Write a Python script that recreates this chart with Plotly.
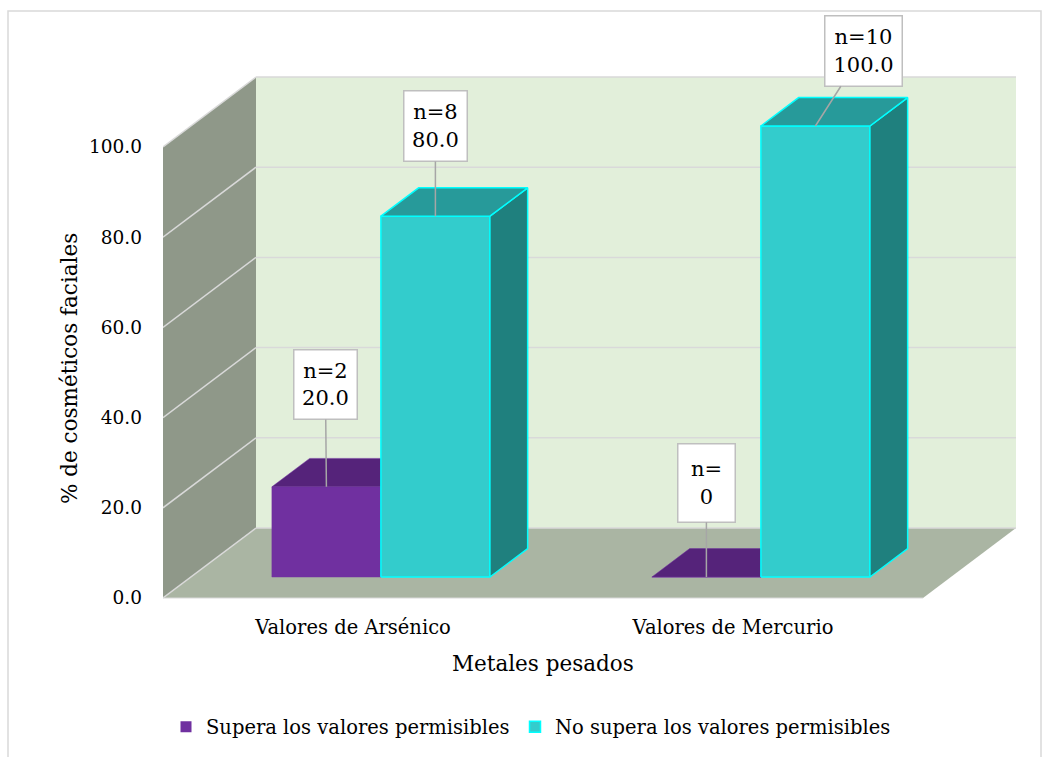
import plotly.graph_objects as go

# ---------------- data ----------------
categories = ["Valores de Arsénico", "Valores de Mercurio"]
series_names = ["Supera los valores permisibles", "No supera los valores permisibles"]
pct_supera = [20.0, 0.0]
pct_no_supera = [80.0, 100.0]
n_supera = [2, 0]
n_no_supera = [8, 10]
y_ticks = [0, 20, 40, 60, 80, 100]
y_tick_text = ["0.0", "20.0", "40.0", "60.0", "80.0", "100.0"]
x_title = "Metales pesados"
y_title = "% de cosméticos faciales"

# ---------------- geometry / style ----------------
W, H = 1050, 757
PL, PR, PT, PB = 163, 1030, 60, 603     # plot area in pixels
Y0, K = 598, 4.51                       # pixel of value 0, px per unit
DEPTH_DX = 93                           # px of full floor depth (x)
DEPTH_DY = 70 / K                       # full floor depth in value units
SLOT = 380                              # px per category
BW = 109                                # bar width px
FRONT_FRAC, BAR_FRAC = 0.30, 0.406      # bar depth position
FONT = "DejaVu Serif"

colors_front = ["#7030A0", "#33CCCC"]
colors_top = ["#55237A", "#279A9A"]
colors_side = ["#47206A", "#1F807E"]
colors_edge = ["#7030A0", "#00FFFF"]
edge_w = [0.5, 1.5]

WALL_BACK = "#E2EFDA"
WALL_LEFT = "#8F9889"
FLOOR = "#AAB5A3"
GRID = "#D9D9D9"

n_cat = len(categories)
x_front_right = PL + SLOT * n_cat
gap = SLOT - 2 * BW

def pxx(px):
    return (px - PL) / (PR - PL)

def pxy(py):
    return (PB - py) / (PB - PT)

fig = go.Figure()
shapes = []

def poly(pts):
    return "M " + " L ".join(f"{x},{y}" for x, y in pts) + " Z"

# walls & floor
D = DEPTH_DY
shapes.append(dict(type="path", xref="x", yref="y", layer="below", line=dict(width=0),
                   fillcolor=WALL_BACK,
                   path=poly([(PL + DEPTH_DX, D), (x_front_right + DEPTH_DX, D),
                              (x_front_right + DEPTH_DX, y_ticks[-1] + D), (PL + DEPTH_DX, y_ticks[-1] + D)])))
shapes.append(dict(type="path", xref="x", yref="y", layer="below", line=dict(width=0),
                   fillcolor=WALL_LEFT,
                   path=poly([(PL, 0), (PL + DEPTH_DX, D), (PL + DEPTH_DX, y_ticks[-1] + D), (PL, y_ticks[-1])])))
shapes.append(dict(type="path", xref="x", yref="y", layer="below", line=dict(width=0),
                   fillcolor=FLOOR,
                   path=poly([(PL, 0), (x_front_right, 0), (x_front_right + DEPTH_DX, D), (PL + DEPTH_DX, D)])))
# gridlines
for v in y_ticks:
    shapes.append(dict(type="line", xref="x", yref="y", layer="below", line=dict(color=GRID, width=1.5),
                       x0=PL + DEPTH_DX, y0=v + D, x1=x_front_right + DEPTH_DX, y1=v + D))
    shapes.append(dict(type="line", xref="x", yref="y", layer="below", line=dict(color=GRID, width=1.5),
                       x0=PL, y0=v, x1=PL + DEPTH_DX, y1=v + D))
shapes.append(dict(type="line", xref="x", yref="y", layer="below", line=dict(color=GRID, width=1),
                   x0=PL, y0=0, x1=x_front_right, y1=0))
# outer chart border
shapes.append(dict(type="rect", xref="paper", yref="paper", layer="below",
                   line=dict(color=GRID, width=1.5), fillcolor="rgba(0,0,0,0)",
                   x0=pxx(8), x1=pxx(1041), y0=pxy(11), y1=pxy(800)))

# bars (3D boxes) drawn left to right
series_vals = [pct_supera, pct_no_supera]
series_n = [n_supera, n_no_supera]
dxf = DEPTH_DX * FRONT_FRAC
dyf = D * FRONT_FRAC
dxb = DEPTH_DX * BAR_FRAC
dyb = D * BAR_FRAC

label_offsets = [[(-1, -102), (0, -94)], [(0, -90), (48, -75)]]
label_sizes = [[(62, 68), (56, 77)], [(62, 69), (76, 69)]]

annotations = []
for i in range(n_cat):
    for j in range(2):
        v = series_vals[j][i]
        xl = PL + SLOT * i + gap / 2 + j * BW + dxf
        xr = xl + BW
        b = dyf
        faces = [
            ([xl, xr, xr, xl, xl], [b, b, b + v, b + v, b], colors_front[j]),
            ([xr, xr + dxb, xr + dxb, xr, xr], [b, b + dyb, b + v + dyb, b + v, b], colors_side[j]),
            ([xl, xr, xr + dxb, xl + dxb, xl], [b + v, b + v, b + v + dyb, b + v + dyb, b + v], colors_top[j]),
        ]
        for fx, fy, fc in faces:
            fig.add_trace(go.Scatter(x=fx, y=fy, mode="lines", fill="toself", fillcolor=fc,
                                     line=dict(color=colors_edge[j], width=edge_w[j]),
                                     showlegend=False, hoverinfo="skip"))
        n = series_n[j][i]
        txt = f"n={n}<br>{v:.1f}" if n > 0 else "n=<br>0"
        ax, ay = label_offsets[j][i]
        bw_, bh_ = label_sizes[j][i]
        annotations.append(dict(x=(xl + xr) / 2, y=b + v, xref="x", yref="y", text=txt,
                                showarrow=True, arrowhead=0, arrowwidth=1.5, arrowcolor="#A6A6A6",
                                ax=ax, ay=ay, bgcolor="white", bordercolor="#BFBFBF", borderwidth=1.5,
                                borderpad=0, width=bw_, height=bh_, align="center",
                                font=dict(family=FONT, size=21, color="black")))

# legend entries (one legend per series so each can be placed freely)
legend_names = ["legend", "legend2"]
for j in range(2):
    fig.add_trace(go.Scatter(x=[None], y=[None], mode="markers", name=series_names[j],
                             legend=legend_names[j],
                             marker=dict(symbol="square", size=11, color=colors_front[j],
                                         line=dict(color=colors_edge[j], width=1.5 if j else 0))))

# axis titles
title_font = dict(family=FONT, size=21.5, color="black")
annotations.append(dict(xref="paper", yref="paper", x=pxx(543), y=pxy(663), text=x_title,
                        showarrow=False, font=title_font, xanchor="center", yanchor="middle"))
annotations.append(dict(xref="paper", yref="paper", x=pxx(69), y=pxy(369), text=y_title,
                        showarrow=False, textangle=-90, font=title_font,
                        xanchor="center", yanchor="middle"))

cat_pos = [PL + SLOT * (i + 0.5) for i in range(n_cat)]
legend_font = dict(family=FONT, size=19.5, color="black")

fig.update_layout(
    width=W, height=H,
    margin=dict(l=PL, r=W - PR, t=PT, b=H - PB, autoexpand=False),
    paper_bgcolor="white", plot_bgcolor="rgba(0,0,0,0)",
    font=dict(family=FONT, color="black"),
    shapes=shapes, annotations=annotations,
    showlegend=True,
    legend=dict(orientation="h", x=pxx(166), xanchor="left", y=pxy(727), yanchor="middle",
                font=legend_font, bgcolor="rgba(0,0,0,0)"),
    legend2=dict(orientation="h", x=pxx(515), xanchor="left", y=pxy(727), yanchor="middle",
                 font=legend_font, bgcolor="rgba(0,0,0,0)"),
    xaxis=dict(range=[PL, PR], showgrid=False, zeroline=False, showline=False, automargin=False,
               tickvals=cat_pos, ticktext=categories, ticks="", ticklabelstandoff=10,
               tickfont=dict(family=FONT, size=19.5, color="black")),
    yaxis=dict(range=[(Y0 - PB) / K, (Y0 - PT) / K], showgrid=False, zeroline=False, showline=False,
               automargin=False, tickvals=y_ticks, ticktext=y_tick_text, ticks="",
               ticklabelstandoff=20, tickfont=dict(family=FONT, size=18.5, color="black")),
)

fig.write_html("out.html")
